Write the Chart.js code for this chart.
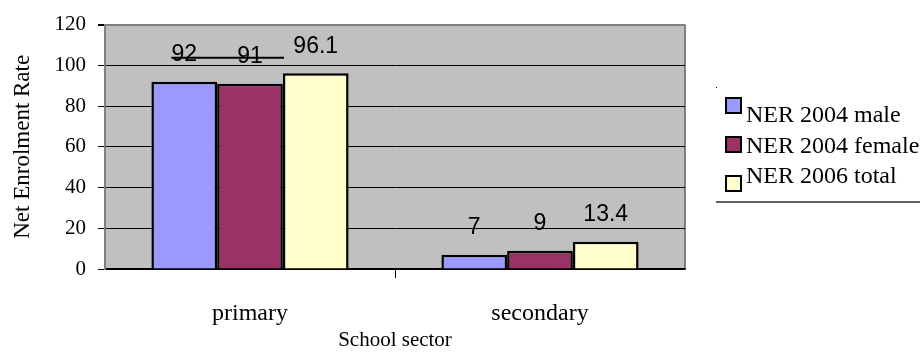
<!DOCTYPE html>
<html>
<head>
<meta charset="utf-8">
<script src="https://cdn.jsdelivr.net/npm/chart.js@4.4.1/dist/chart.umd.min.js"></script>
<style>
  html, body { margin: 0; padding: 0; background: #fff; }
  #wrap { width: 920px; height: 353px; }
</style>
</head>
<body>
<div id="wrap"><canvas id="ner-chart" width="920" height="353"></canvas></div>
<script>
// --- Data ---
const sectors = ['primary', 'secondary'];
const seriesNames = ['NER 2004 male', 'NER 2004 female', 'NER 2006 total'];
const male2004 = [92, 7];
const female2004 = [91, 9];
const total2006 = [96.1, 13.4];
const yTicks = [0, 20, 40, 60, 80, 100, 120];

const seriesColors = ['#9999FF', '#993366', '#FFFFCC'];
const serif = "'Liberation Serif', 'Times New Roman', serif";
const sans = "'Liberation Sans', Arial, sans-serif";

// grey plot background with a thin grey frame on the right
const plotBackground = {
    id: 'plotBackground',
    beforeDraw(chart) {
        const { ctx, chartArea: a } = chart;
        ctx.save();
        ctx.fillStyle = '#C0C0C0';
        ctx.fillRect(a.left, a.top, a.right - a.left, a.bottom - a.top);
        ctx.strokeStyle = '#808080';
        ctx.lineWidth = 2;
        ctx.beginPath();
        ctx.moveTo(a.right, a.top);
        ctx.lineTo(a.right, a.bottom);
        ctx.stroke();
        ctx.restore();
    }
};

// value labels above each bar
const valueLabels = {
    id: 'valueLabels',
    afterDatasetsDraw(chart) {
        const { ctx } = chart;
        ctx.save();
        ctx.font = `23px ${sans}`;
        ctx.fillStyle = '#000';
        ctx.textAlign = 'center';
        ctx.textBaseline = 'middle';
        chart.data.datasets.forEach((ds, i) => {
            chart.getDatasetMeta(i).data.forEach((bar, j) => {
                ctx.fillText(String(ds.data[j]), bar.x, bar.y - 27);
            });
        });
        // leader line under the first primary label
        const b0 = chart.getDatasetMeta(0).data[0];
        const b1 = chart.getDatasetMeta(1).data[0];
        ctx.strokeStyle = '#000';
        ctx.lineWidth = 2;
        ctx.beginPath();
        ctx.moveTo(b0.x - 13, b0.y - 24);
        ctx.lineTo(b1.x + 34, b0.y - 24);
        ctx.stroke();
        ctx.restore();
    }
};

// legend box on the right
const sideLegend = {
    id: 'sideLegend',
    afterDraw(chart) {
        const { ctx, chartArea: a } = chart;
        const x0 = a.right + 31;
        const markerTops = [98, 137, 176];
        const baselines = [122, 153, 183];
        ctx.save();
        ctx.fillStyle = '#000';
        ctx.fillRect(x0, 87, 1, 1);
        ctx.font = `24px ${serif}`;
        ctx.textBaseline = 'alphabetic';
        ctx.textAlign = 'left';
        seriesNames.forEach((name, i) => {
            ctx.fillStyle = seriesColors[i];
            ctx.fillRect(x0 + 10, markerTops[i], 15, 15);
            ctx.strokeStyle = '#000';
            ctx.lineWidth = 2;
            ctx.strokeRect(x0 + 10, markerTops[i], 15, 15);
            ctx.fillStyle = '#000';
            ctx.fillText(name, x0 + 30, baselines[i]);
        });
        ctx.strokeStyle = '#606060';
        ctx.lineWidth = 2;
        ctx.beginPath();
        ctx.moveTo(x0, 202);
        ctx.lineTo(920, 202);
        ctx.stroke();
        ctx.restore();
    }
};

const makeSet = (label, data, color) => ({
    label,
    data,
    backgroundColor: color,
    borderColor: '#000',
    borderWidth: 2.5,
    borderSkipped: 'bottom',
    categoryPercentage: 0.68,
    barPercentage: 1.0
});

new Chart(document.getElementById('ner-chart'), {
    type: 'bar',
    data: {
        labels: sectors,
        datasets: [
            makeSet(seriesNames[0], male2004, seriesColors[0]),
            makeSet(seriesNames[1], female2004, seriesColors[1]),
            makeSet(seriesNames[2], total2006, seriesColors[2])
        ]
    },
    options: {
        responsive: false,
        devicePixelRatio: 1,
        animation: false,
        layout: { padding: { top: 20, right: 235, left: 0, bottom: 0 } },
        plugins: { legend: { display: false }, tooltip: { enabled: false } },
        scales: {
            x: {
                afterFit(scale) { scale.height = 84; },
                grid: {
                    offset: true,
                    drawOnChartArea: false,
                    drawTicks: true,
                    tickLength: 9,
                    color: '#000',
                    tickColor: (c) => c.index === 1 ? '#000' : 'rgba(0,0,0,0)'
                },
                border: { color: '#000', width: 1.5 },
                ticks: { color: '#000', padding: 21, font: { family: serif, size: 24 } },
                title: {
                    display: true,
                    text: 'School sector',
                    color: '#000',
                    font: { family: serif, size: 21 },
                    padding: { top: 0, bottom: 0 }
                }
            },
            y: {
                min: yTicks[0],
                max: yTicks[yTicks.length - 1],
                afterFit(scale) { scale.width = 105; },
                afterBuildTicks(scale) { scale.ticks = yTicks.map(v => ({ value: v })); },
                grid: {
                    color: (c) => c.tick && c.tick.value === 120 ? '#808080' : '#000',
                    lineWidth: (c) => c.tick && c.tick.value === 120 ? 2 : 1,
                    tickColor: '#000',
                    tickLength: 7
                },
                border: { color: '#808080', width: 2 },
                ticks: { color: '#000', padding: 12, font: { family: serif, size: 21 } },
                title: {
                    display: true,
                    text: 'Net Enrolment Rate',
                    color: '#000',
                    font: { family: serif, size: 23 },
                    padding: { top: 9, bottom: 0 }
                }
            }
        }
    },
    plugins: [plotBackground, valueLabels, sideLegend]
});
</script>
</body>
</html>
